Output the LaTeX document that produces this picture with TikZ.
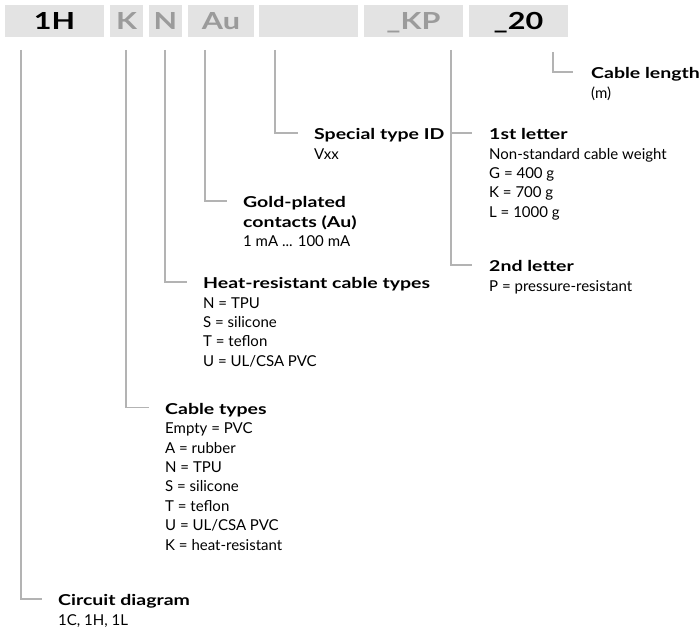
\documentclass[tikz,border=0pt]{standalone}
\usepackage{fontspec}
\setmainfont{Lato}
\newfontfamily\widebold{Lato}[FakeStretch=1.3]
\newcommand{\ttl}[1]{{\widebold\bfseries #1}}
\definecolor{boxgray}{HTML}{E3E3E3}
\definecolor{lettergray}{HTML}{9B9B9B}
\definecolor{linegray}{HTML}{B3B3B3}
\begin{document}
\begin{tikzpicture}[x=1pt,y=-1pt,
  box/.style={fill=boxgray, inner sep=0pt, minimum height=32pt, text height=17pt, text depth=0pt,
              font=\fontsize{23.5}{23.5}\selectfont\widebold\bfseries},
  dim/.style={text=lettergray},
  lbl/.style={anchor=north west, inner sep=0pt, align=left, font=\fontsize{15}{19.4}\selectfont},
  conn/.style={draw=linegray, line width=1.2pt}]
\useasboundingbox (0,0) rectangle (700,631);
% code boxes
\node[box, minimum width=99pt] (b1) at (54.5,21) {1H};
\node[box, dim, minimum width=33pt] (b2) at (126.5,21) {K};
\node[box, dim, minimum width=33pt] (b3) at (165.5,21) {N};
\node[box, dim, minimum width=66pt] (b4) at (221,21) {Au};
\node[box, minimum width=99pt] (b5) at (308.5,21) {};
\node[box, dim, minimum width=99pt] (b6) at (413.5,21) {\_KP};
\node[box, minimum width=99pt] (b7) at (518.5,21) {\_20};
% labels
\node[lbl] (lcirc) at (58,592) {\strut\ttl{Circuit diagram}\\1C, 1H, 1L};
\node[lbl] (lcable) at (165,400.5) {\strut\ttl{Cable types}\\Empty = PVC\\A = rubber\\N = TPU\\S = silicone\\T = teflon\\U = UL/CSA PVC\\K = heat-resistant};
\node[lbl] (lheat) at (203,275) {\strut\ttl{Heat-resistant cable types}\\N = TPU\\S = silicone\\T = teflon\\U = UL/CSA PVC};
\node[lbl] (lgold) at (243,194) {\strut\ttl{Gold-plated}\\\ttl{contacts (Au)}\\1 mA ... 100 mA};
\node[lbl] (lspec) at (314,126) {\strut\ttl{Special type ID}\\Vxx};
\node[lbl] (lfirst) at (489,126) {\strut\ttl{1st letter}\\Non-standard cable weight\\G = 400 g\\K = 700 g\\L = 1000 g};
\node[lbl] (lsecond) at (489,258) {\strut\ttl{2nd letter}\\P = pressure-resistant};
\node[lbl] (llen) at (591,65) {\strut\ttl{Cable length}\\(m)};
% connector ends
\coordinate (t1) at (21,50);   \coordinate (e1) at (42,599);
\coordinate (t2) at (126,50);  \coordinate (e2) at (149,407.5);
\coordinate (t3) at (165,50);  \coordinate (e3) at (187,282);
\coordinate (t4) at (205,50);  \coordinate (e4) at (227,201);
\coordinate (t5) at (275,50);  \coordinate (e5) at (298,133);
\coordinate (t6) at (451,50);  \coordinate (j6) at (451,133);
\coordinate (e6a) at (472,133); \coordinate (e6b) at (472,265);
\coordinate (t7) at (553,52);  \coordinate (e7) at (573,72);
% connectors
\draw[conn] (t1) |- (e1);
\draw[conn] (t2) |- (e2);
\draw[conn] (t3) |- (e3);
\draw[conn] (t4) |- (e4);
\draw[conn] (t5) |- (e5);
\draw[conn] (t6) |- (e6b);
\draw[conn] (j6) -- (e6a);
\draw[conn] (t7) |- (e7);
\end{tikzpicture}
\end{document}
